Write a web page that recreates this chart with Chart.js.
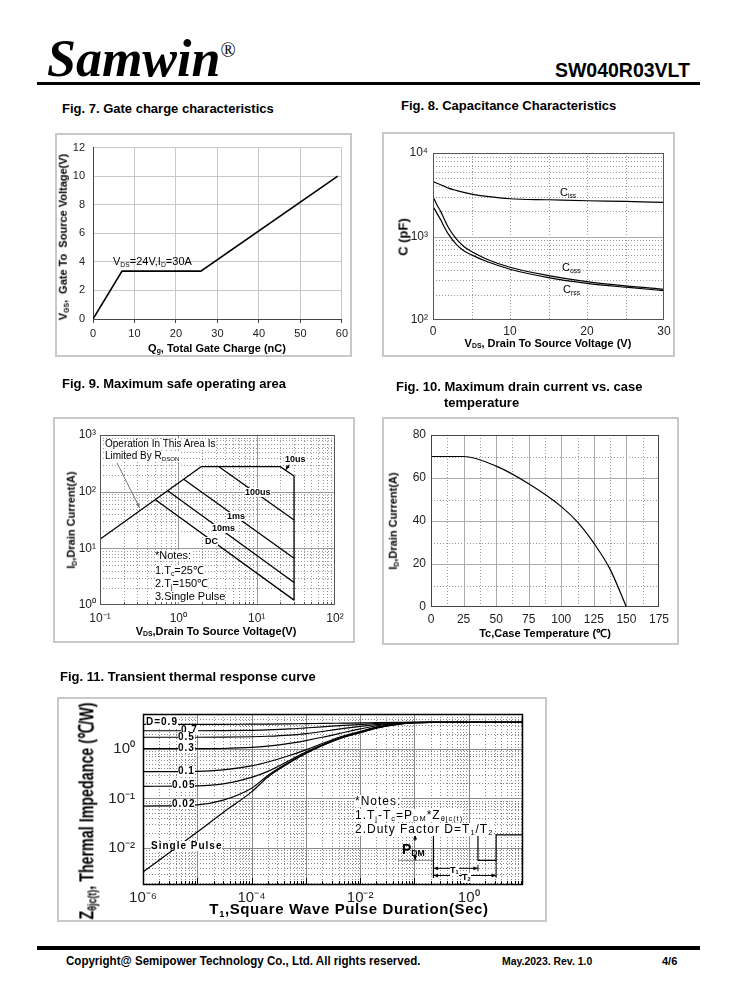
<!DOCTYPE html>
<html lang="en">
<head>
<meta charset="UTF-8">
<title>SW040R03VLT curves</title>
<script src="https://cdn.jsdelivr.net/npm/chart.js"></script>
<style>
    body { margin: 0; background: #fff; font-family: "Liberation Sans", Arial, sans-serif; color: #000; }
    .page { position: relative; width: 738px; height: 1000px; overflow: hidden; }
    .abs { position: absolute; white-space: nowrap; line-height: 1; }
    .box { position: absolute; border: 2px solid #c8c8c8; box-sizing: border-box; }
    canvas { position: absolute; }
    .figt { font-size: 13px; font-weight: bold; }
    .ax { font-size: 11px; font-weight: bold; }
    .ctr { transform: translate(-50%, -50%); }
    .rot { transform: translate(-50%, -50%) rotate(-90deg); }
    .s { font-size: 0.62em; vertical-align: -0.25em; }
    .w { background: #fff; }
    .cl { font-size: 9px; font-weight: bold; background: #fff; }
    .dl { font-size: 10px; font-weight: bold; letter-spacing: 1px; background: #fff; }
    .nt { font-size: 11px; background: #fff; }
    .nt11 { font-size: 12px; letter-spacing: 1px; background: #fff; }
</style>
</head>
<body>
<div class="page">
    <!-- header -->
    <div class="abs" style="left:47px;top:33px;font-family:'Liberation Serif',serif;font-size:52px;font-weight:bold;font-style:italic;">Samwin<span style="font-size:20px;font-weight:normal;font-style:normal;vertical-align:19px;">®</span></div>
    <div class="abs" style="right:48px;top:61px;font-size:19.5px;font-weight:bold;">SW040R03VLT</div>
    <div style="position:absolute;left:37px;top:82px;width:663px;height:3px;background:#000;"></div>

    <!-- Fig.7 -->
    <div class="abs figt" style="left:62px;top:102px;">Fig. 7. Gate charge characteristics</div>
    <div class="box" style="left:55px;top:133px;width:297px;height:224px;"></div>
    <canvas id="fig7" width="297" height="224" style="left:55px;top:133px;"></canvas>
    <div class="abs ax rot" style="left:64px;top:237px;">V<span class="s">GS</span>,&nbsp; Gate To&nbsp; Source Voltage(V)</div>
    <div class="abs ax ctr" style="left:217px;top:349px;">Q<span class="s">g</span>, Total Gate Charge (nC)</div>
    <div class="abs" style="left:113px;top:256px;font-size:11px;">V<span class="s">DS</span>=24V,I<span class="s">D</span>=30A</div>

    <!-- Fig.8 -->
    <div class="abs figt" style="left:401px;top:99px;">Fig. 8. Capacitance Characteristics</div>
    <div class="box" style="left:382px;top:132px;width:293px;height:225px;"></div>
    <canvas id="fig8" width="293" height="225" style="left:382px;top:132px;"></canvas>
    <div class="abs rot" style="left:403px;top:237px;font-size:13px;font-weight:bold;">C (pF)</div>
    <div class="abs ax ctr" style="left:548px;top:344px;">V<span class="s">DS</span>, Drain To Source Voltage (V)</div>
    <div class="abs" style="left:560px;top:187px;font-size:11px;">C<span class="s">iss</span></div>
    <div class="abs" style="left:562px;top:262px;font-size:11px;">C<span class="s">oss</span></div>
    <div class="abs" style="left:563px;top:284px;font-size:11px;">C<span class="s">rss</span></div>

    <!-- Fig.9 -->
    <div class="abs figt" style="left:62px;top:377px;">Fig. 9. Maximum safe operating area</div>
    <div class="box" style="left:53px;top:417px;width:302px;height:226px;"></div>
    <canvas id="fig9" width="302" height="226" style="left:53px;top:417px;"></canvas>
    <div class="abs ax rot" style="left:72px;top:520px;">I<span class="s">D</span>,Drain Current(A)</div>
    <div class="abs ax ctr" style="left:216px;top:632px;">V<span class="s">DS</span>,Drain To Source Voltage(V)</div>
    <div class="abs w" style="left:105px;top:439px;font-size:10px;">Operation In This Area Is</div>
    <div class="abs w" style="left:105px;top:451px;font-size:10px;">Limited By R<span class="s">DSON</span></div>
    <div class="abs cl" style="left:285px;top:455px;">10us</div>
    <div class="abs cl" style="left:245px;top:488px;">100us</div>
    <div class="abs cl" style="left:227px;top:512px;">1ms</div>
    <div class="abs cl" style="left:212px;top:524px;">10ms</div>
    <div class="abs cl" style="left:205px;top:537px;">DC</div>
    <div class="abs nt" style="left:155px;top:550px;">*Notes:</div>
    <div class="abs nt" style="left:155px;top:565px;">1.T<span class="s">c</span>=25℃</div>
    <div class="abs nt" style="left:155px;top:578px;">2.T<span class="s">j</span>=150℃</div>
    <div class="abs nt" style="left:155px;top:591px;">3.Single Pulse</div>

    <!-- Fig.10 -->
    <div class="abs figt" style="left:396px;top:380px;">Fig. 10. Maximum drain current vs. case</div>
    <div class="abs figt" style="left:444px;top:396px;">temperature</div>
    <div class="box" style="left:382px;top:417px;width:297px;height:228px;"></div>
    <canvas id="fig10" width="297" height="228" style="left:382px;top:417px;"></canvas>
    <div class="abs ax rot" style="left:394px;top:521px;">I<span class="s">D</span>,Drain Current(A)</div>
    <div class="abs ax ctr" style="left:545px;top:633px;">Tc,Case Temperature (℃)</div>

    <!-- Fig.11 -->
    <div class="abs figt" style="left:60px;top:670px;">Fig. 11. Transient thermal response curve</div>
    <div class="box" style="left:57px;top:697px;width:490px;height:225px;"></div>
    <canvas id="fig11" width="490" height="225" style="left:57px;top:697px;"></canvas>
    <div class="abs" style="left:87px;top:811px;font-size:21px;font-weight:bold;transform:translate(-50%,-50%) rotate(-90deg) scaleX(0.68);">Z<span class="s">θjc(t)</span>, Thermal Impedance (℃/W)</div>
    <div class="abs ctr" style="left:349px;top:910px;font-size:15px;font-weight:bold;letter-spacing:0.6px;">T<span class="s">1</span>,Square Wave Pulse Duration(Sec)</div>
    <div class="abs dl" style="left:146px;top:717px;">D=0.9</div>
    <div class="abs dl" style="left:181px;top:725px;">0.7</div>
    <div class="abs dl" style="left:178px;top:732px;">0.5</div>
    <div class="abs dl" style="left:178px;top:743px;">0.3</div>
    <div class="abs dl" style="left:178px;top:766px;">0.1</div>
    <div class="abs dl" style="left:172px;top:780px;">0.05</div>
    <div class="abs dl" style="left:172px;top:799px;">0.02</div>
    <div class="abs dl" style="left:151px;top:841px;">Single Pulse</div>
    <div class="abs nt11" style="left:355px;top:795px;">*Notes:</div>
    <div class="abs nt11" style="left:355px;top:809px;">1.T<span class="s">j</span>-T<span class="s">c</span>=P<span class="s">DM</span>*Z<span class="s">θjc(t)</span></div>
    <div class="abs nt11" style="left:355px;top:823px;">2.Duty Factor D=T<span class="s">1</span>/T<span class="s">2</span></div>
    <div class="abs" style="left:402px;top:842px;font-size:14px;font-weight:bold;">P<span class="s">DM</span></div>
    <div class="abs w" style="left:450px;top:866px;font-size:9px;font-weight:bold;">T<span class="s">1</span></div>
    <div class="abs w" style="left:462px;top:873px;font-size:9px;font-weight:bold;">T<span class="s">2</span></div>

    <!-- footer -->
    <div style="position:absolute;left:37px;top:946px;width:663px;height:4px;background:#000;"></div>
    <div class="abs" style="left:66px;top:955px;font-size:12px;font-weight:bold;transform:scaleX(0.962);transform-origin:left;">Copyright@ Semipower Technology Co., Ltd. All rights reserved.</div>
    <div class="abs" style="left:502px;top:956px;font-size:11px;font-weight:bold;transform:scaleX(0.95);transform-origin:left;">May.2023. Rev. 1.0</div>
    <div class="abs" style="left:662px;top:956px;font-size:11px;font-weight:bold;">4/6</div>
</div>

<script>
    Chart.defaults.font.family = "'Liberation Sans', Arial, sans-serif";
    Chart.defaults.color = "#222";

    // Fig.7 gate charge
    const gateQg = [0, 7, 26, 59];
    const gateVgs = [0, 3.35, 3.35, 10];
    const gateQgTicks = [0, 10, 20, 30, 40, 50, 60];
    const gateVgsTicks = [0, 2, 4, 6, 8, 10, 12];

    // Fig.8 capacitance
    const capVds = [0, 0.5, 1, 1.5, 2, 3, 4, 5, 7, 10, 15, 20, 25, 30];
    const capCiss = [4570, 4350, 4170, 3980, 3800, 3565, 3375, 3220, 3020, 2830, 2755, 2680, 2630, 2560];
    const capCoss = [3020, 2400, 2000, 1585, 1280, 940, 760, 660, 535, 428, 340, 288, 256, 233];
    const capCrss = [2290, 1905, 1585, 1280, 1067, 810, 673, 603, 501, 405, 322, 275, 247, 225];
    const capVdsTicks = [0, 10, 20, 30];
    const capTicks = [100, 1000, 10000];
    const capTickLabels = ["10²", "10³", "10⁴"];

    // Fig.9 safe operating area
    const soaRdsV = [0.1, 1.95];
    const soaRdsI = [14.5, 276];
    const soa10usV = [1.95, 20, 30, 30];
    const soa10usI = [276, 276, 189, 1.22];
    const soa100usV = [3.3, 30];
    const soa100usI = [276, 31.6];
    const soa1msV = [1.17, 30];
    const soa1msI = [165, 6.7];
    const soa10msV = [0.74, 30];
    const soa10msI = [103, 2.5];
    const soaDcV = [0.51, 30];
    const soaDcI = [72, 1.22];
    const soaVTicks = [0.1, 1, 10, 100];
    const soaVTickLabels = ["10⁻¹", "10⁰", "10¹", "10²"];
    const soaITicks = [1, 10, 100, 1000];
    const soaITickLabels = ["10⁰", "10¹", "10²", "10³"];

    // Fig.10 drain current vs case temperature
    const caseTemp = [0, 25, 50, 75, 100, 112.5, 125, 137.5, 150];
    const drainId = [70, 70, 65.5, 57.3, 46.7, 39.5, 29.7, 17.5, 0];
    const caseTempTicks = [0, 25, 50, 75, 100, 125, 150, 175];
    const drainIdTicks = [0, 20, 40, 60, 80];

    // Fig.11 transient thermal impedance
    const pulseT = [1e-6, 1e-5, 3e-5, 1e-4, 2e-4, 5e-4, 1e-3, 2e-3, 5e-3, 1e-2, 2e-2, 5e-2, 0.1, 0.2, 1, 10];
    const zD09 = [3.1, 3.1, 3.1, 3.12, 3.13, 3.16, 3.2, 3.23, 3.27, 3.3, 3.34, 3.38, 3.4, 3.4, 3.4, 3.4];
    const zD07 = [2.3, 2.3, 2.31, 2.35, 2.4, 2.5, 2.62, 2.75, 2.95, 3.08, 3.22, 3.35, 3.39, 3.4, 3.4, 3.4];
    const zD05 = [1.7, 1.7, 1.71, 1.74, 1.78, 1.88, 2.02, 2.22, 2.56, 2.82, 3.06, 3.3, 3.38, 3.4, 3.4, 3.4];
    const zD03 = [1.0, 1.0, 1.01, 1.06, 1.13, 1.28, 1.46, 1.7, 2.12, 2.5, 2.9, 3.25, 3.37, 3.4, 3.4, 3.4];
    const zD01 = [0.345, 0.35, 0.375, 0.45, 0.54, 0.73, 0.95, 1.27, 1.82, 2.22, 2.72, 3.18, 3.36, 3.4, 3.4, 3.4];
    const zD005 = [0.175, 0.178, 0.195, 0.265, 0.35, 0.58, 0.86, 1.2, 1.76, 2.16, 2.66, 3.15, 3.35, 3.4, 3.4, 3.4];
    const zD002 = [0.07, 0.074, 0.092, 0.16, 0.29, 0.54, 0.82, 1.17, 1.72, 2.12, 2.62, 3.12, 3.35, 3.4, 3.4, 3.4];
    const zSingle = [0.0033, 0.021, 0.052, 0.135, 0.27, 0.52, 0.8, 1.15, 1.7, 2.1, 2.6, 3.1, 3.34, 3.4, 3.4, 3.4];
    const pulseTicks = [1e-6, 1e-4, 1e-2, 1];
    const pulseTickLabels = ["10⁻⁶", "10⁻⁴", "10⁻²", "10⁰"];
    const zTicks = [0.01, 0.1, 1];
    const zTickLabels = ["10⁻²", "10⁻¹", "10⁰"];

    // helpers
    const pts = (xs, ys) => xs.map((x, i) => ({ x: x, y: ys[i] }));
    const between = (vals, lo, hi) => vals.filter(v => v > lo * 1.0001 && v < hi * 0.9999);
    function logMinors(lo, hi) {
        const out = [];
        for (let e = Math.floor(Math.log10(lo)); e <= Math.ceil(Math.log10(hi)); e++) {
            for (let m = 2; m < 10; m++) out.push(m * Math.pow(10, e));
        }
        return between(out, lo, hi);
    }
    function logMajors(lo, hi) {
        const out = [];
        for (let e = Math.floor(Math.log10(lo)); e <= Math.ceil(Math.log10(hi)); e++) out.push(Math.pow(10, e));
        return between(out, lo, hi);
    }
    function line(data, width) {
        return { data: data, showLine: true, borderColor: "#000", borderWidth: width || 1.3, pointRadius: 0, fill: false };
    }

    // extra drawing (grids, frames, annotation arrows) done through the chart scales
    const extras = {};
    function arrowHead(ctx, x1, y1, x2, y2) {
        const a = Math.atan2(y2 - y1, x2 - x1), l = 5;
        ctx.beginPath();
        ctx.moveTo(x2, y2);
        ctx.lineTo(x2 - l * Math.cos(a - 0.4), y2 - l * Math.sin(a - 0.4));
        ctx.lineTo(x2 - l * Math.cos(a + 0.4), y2 - l * Math.sin(a + 0.4));
        ctx.closePath();
        ctx.fill();
    }
    const drawExtras = {
        id: "drawExtras",
        beforeDatasetsDraw(chart) {
            const e = extras[chart.canvas.id];
            const ctx = chart.ctx, a = chart.chartArea;
            ctx.save();
            ctx.beginPath();
            ctx.rect(a.left, a.top, a.right - a.left, a.bottom - a.top);
            ctx.clip();
            (e.grids || []).forEach(g => {
                const sc = chart.scales[g.axis];
                ctx.strokeStyle = g.color;
                ctx.lineWidth = g.width || 1;
                ctx.setLineDash(g.dash || []);
                g.values.forEach(v => {
                    const p = Math.round(sc.getPixelForValue(v)) + 0.5;
                    ctx.beginPath();
                    if (g.axis === "x") { ctx.moveTo(p, a.top); ctx.lineTo(p, a.bottom); }
                    else { ctx.moveTo(a.left, p); ctx.lineTo(a.right, p); }
                    ctx.stroke();
                });
            });
            ctx.restore();
        },
        afterDatasetsDraw(chart) {
            const e = extras[chart.canvas.id];
            const ctx = chart.ctx, a = chart.chartArea;
            const sx = chart.scales.x, sy = chart.scales.y;
            ctx.save();
            (e.ticks || []).forEach(t => {
                ctx.strokeStyle = t.color;
                ctx.lineWidth = 1;
                t.values.forEach(v => {
                    const p = Math.round(sx.getPixelForValue(v)) + 0.5;
                    ctx.beginPath();
                    ctx.moveTo(p, a.bottom);
                    ctx.lineTo(p, a.bottom - t.len);
                    ctx.stroke();
                });
            });
            if (e.frame) {
                ctx.strokeStyle = e.frame.color;
                ctx.lineWidth = e.frame.width;
                ctx.strokeRect(Math.round(a.left) + 0.5, Math.round(a.top) + 0.5,
                    Math.round(a.right - a.left) - 1, Math.round(a.bottom - a.top) - 1);
            }
            (e.shapes || []).forEach(s => {
                const p = s.pts.map(q => [sx.getPixelForValue(q[0]), sy.getPixelForValue(q[1])]);
                ctx.strokeStyle = s.color;
                ctx.fillStyle = s.color;
                ctx.lineWidth = s.width || 1;
                ctx.beginPath();
                p.forEach((q, i) => i ? ctx.lineTo(q[0], q[1]) : ctx.moveTo(q[0], q[1]));
                ctx.stroke();
                const n = p.length;
                if (s.arrow === "end" || s.arrow === "both") arrowHead(ctx, p[n - 2][0], p[n - 2][1], p[n - 1][0], p[n - 1][1]);
                if (s.arrow === "start" || s.arrow === "both") arrowHead(ctx, p[1][0], p[1][1], p[0][0], p[0][1]);
            });
            ctx.restore();
        }
    };

    function axis(type, min, max, tickVals, tickLabels, size, isX, font, pad) {
        return {
            type: type, min: min, max: max,
            afterBuildTicks: s => { s.ticks = tickVals.map(v => ({ value: v })); },
            afterFit: s => { if (isX) s.height = size; else s.width = size; },
            ticks: {
                autoSkip: false, maxRotation: 0, padding: pad, color: "#222",
                font: { size: font },
                callback: (v, i) => tickLabels[i]
            },
            grid: { display: false, drawTicks: false },
            border: { display: false }
        };
    }

    function makeChart(id, datasets, scales, pad, extra) {
        extras[id] = extra;
        return new Chart(document.getElementById(id), {
            type: "scatter",
            data: { datasets: datasets },
            options: {
                responsive: false,
                animation: false,
                events: [],
                layout: { padding: pad },
                elements: { line: { tension: 0 } },
                plugins: { legend: { display: false }, tooltip: { enabled: false } },
                scales: scales
            },
            plugins: [drawExtras]
        });
    }

    // ---- Fig.7
    const f7x = axis("linear", 0, 60, gateQgTicks, gateQgTicks.map(String), 38, true, 11, 4);
    f7x.grid = { color: "#c8c8c8", tickLength: 4, tickColor: "#444" };
    f7x.border = { color: "#444" };
    const f7y = axis("linear", 0, 12, gateVgsTicks, gateVgsTicks.map(String), 38, false, 11, 8);
    f7y.grid = { color: "#c8c8c8", drawTicks: false };
    f7y.border = { color: "#444" };
    makeChart("fig7", [line(pts(gateQg, gateVgs), 1.6)], { x: f7x, y: f7y },
        { top: 14, right: 10, left: 0, bottom: 0 }, {});

    // ---- Fig.8
    const smooth = d => Object.assign(d, { cubicInterpolationMode: "monotone" });
    makeChart("fig8", [
        smooth(line(pts(capVds, capCiss), 1.2)),
        smooth(line(pts(capVds, capCoss), 1.2)),
        smooth(line(pts(capVds, capCrss), 1.2))
    ], {
        x: axis("linear", 0, 30, capVdsTicks, capVdsTicks.map(String), 37, true, 12, 4),
        y: axis("logarithmic", 100, 10000, capTicks, capTickLabels, 51, false, 12, 5)
    }, { top: 21, right: 11, left: 0, bottom: 0 }, {
        grids: [
            { axis: "x", values: [5, 10, 15, 20, 25], color: "#999", dash: [1, 2] },
            { axis: "y", values: logMinors(100, 10000), color: "#999", dash: [1, 2] },
            { axis: "y", values: logMajors(100, 10000), color: "#aaa" }
        ],
        frame: { color: "#555", width: 1 }
    });

    // ---- Fig.9
    makeChart("fig9", [
        line(pts(soaRdsV, soaRdsI)),
        line(pts(soa10usV, soa10usI)),
        line(pts(soa100usV, soa100usI)),
        line(pts(soa1msV, soa1msI)),
        line(pts(soa10msV, soa10msI)),
        line(pts(soaDcV, soaDcI))
    ], {
        x: axis("logarithmic", 0.1, 100, soaVTicks, soaVTickLabels, 38, true, 12, 6),
        y: axis("logarithmic", 1, 1000, soaITicks, soaITickLabels, 47, false, 12, 4)
    }, { top: 18, right: 20, left: 0, bottom: 0 }, {
        grids: [
            { axis: "x", values: logMinors(0.1, 100), color: "#999", dash: [1, 2] },
            { axis: "y", values: logMinors(1, 1000), color: "#999", dash: [1, 2] },
            { axis: "x", values: logMajors(0.1, 100), color: "#999" },
            { axis: "y", values: logMajors(1, 1000), color: "#999" }
        ],
        ticks: [{ values: logMinors(0.1, 100), len: 3, color: "#555" }],
        frame: { color: "#555", width: 1 },
        shapes: [
            { pts: [[0.165, 321], [0.32, 52]], color: "#777", width: 1, arrow: "end" },
            { pts: [[26, 300], [23.5, 242]], color: "#000", width: 1, arrow: "end" }
        ]
    });

    // ---- Fig.10
    const f10 = smooth(line(pts(caseTemp, drainId), 1.2));
    makeChart("fig10", [f10], {
        x: axis("linear", 0, 175, caseTempTicks, caseTempTicks.map(String), 38, true, 12, 5),
        y: axis("linear", 0, 80, drainIdTicks, drainIdTicks.map(String), 49, false, 12, 5)
    }, { top: 18, right: 20, left: 0, bottom: 0 }, {
        grids: [
            { axis: "x", values: [12.5, 37.5, 62.5, 87.5, 112.5, 137.5, 162.5], color: "#999", dash: [1, 2] },
            { axis: "y", values: [10, 30, 50, 70], color: "#999", dash: [1, 2] },
            { axis: "x", values: [25, 50, 75, 100, 125, 150], color: "#aaa" },
            { axis: "y", values: [20, 40, 60], color: "#aaa" }
        ],
        frame: { color: "#444", width: 1 }
    });

    // ---- Fig.11
    makeChart("fig11", [
        smooth(line(pts(pulseT, zD09), 1.2)),
        smooth(line(pts(pulseT, zD07), 1.2)),
        smooth(line(pts(pulseT, zD05), 1.2)),
        smooth(line(pts(pulseT, zD03), 1.2)),
        smooth(line(pts(pulseT, zD01), 1.2)),
        smooth(line(pts(pulseT, zD005), 1.2)),
        smooth(line(pts(pulseT, zD002), 1.2)),
        smooth(line(pts(pulseT, zSingle), 1.2))
    ], {
        x: axis("logarithmic", 1e-6, 10, pulseTicks, pulseTickLabels, 37, true, 15, 4),
        y: axis("logarithmic", 0.0018, 5, zTicks, zTickLabels, 86, false, 15, 8)
    }, { top: 15, right: 24, left: 0, bottom: 0 }, {
        grids: [
            { axis: "x", values: logMinors(1e-6, 10), color: "#888", dash: [1, 2] },
            { axis: "y", values: logMinors(0.0018, 5), color: "#888", dash: [1, 2] },
            { axis: "x", values: logMajors(1e-6, 10), color: "#888" },
            { axis: "y", values: logMajors(0.0018, 5), color: "#888" }
        ],
        ticks: [{ values: logMinors(1e-6, 10), len: 4, color: "#000" }, { values: logMajors(1e-6, 10), len: 7, color: "#000" }],
        frame: { color: "#000", width: 1.5 },
        shapes: [
            { pts: [[0.05, 0.0184], [0.224, 0.0184]], color: "#888", width: 1 },
            { pts: [[0.05, 0.00564], [0.224, 0.00564]], color: "#888", width: 1 },
            { pts: [[0.224, 0.0025], [0.224, 0.0184], [1.48, 0.0184], [1.48, 0.00564], [3.2, 0.00564], [3.2, 0.0184], [10, 0.0184]], color: "#000", width: 1.2 },
            { pts: [[3.2, 0.00564], [3.2, 0.0025]], color: "#000", width: 1 },
            { pts: [[1.48, 0.0046], [1.48, 0.0034]], color: "#000", width: 1 },
            { pts: [[0.103, 0.014], [0.103, 0.0184]], color: "#000", width: 1, arrow: "end" },
            { pts: [[0.103, 0.0072], [0.103, 0.00564]], color: "#000", width: 1, arrow: "end" },
            { pts: [[0.224, 0.0039], [1.48, 0.0039]], color: "#000", width: 1, arrow: "both" },
            { pts: [[0.224, 0.0028], [3.2, 0.0028]], color: "#000", width: 1, arrow: "both" }
        ]
    });
</script>
</body>
</html>
